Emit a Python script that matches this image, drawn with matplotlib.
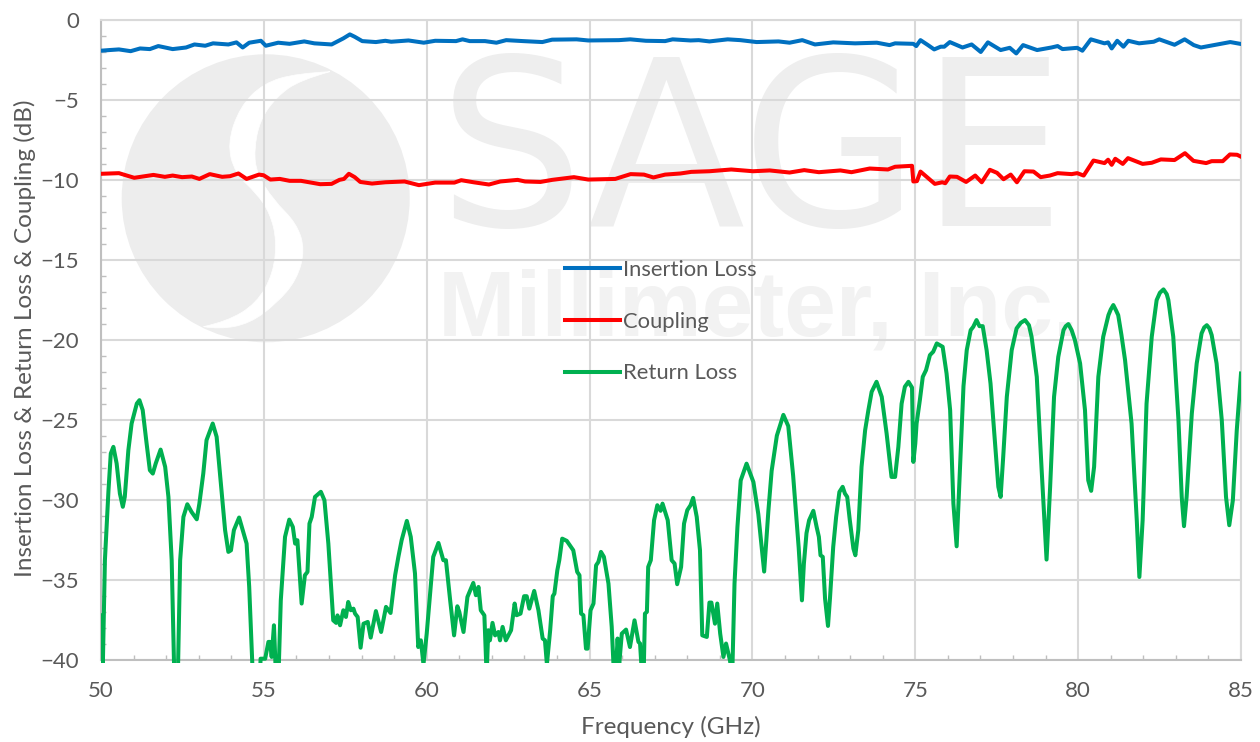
import matplotlib
matplotlib.use("Agg")
import matplotlib.pyplot as plt
from matplotlib.patches import Circle, PathPatch
from matplotlib.path import Path
from matplotlib.transforms import Bbox, TransformedBbox, IdentityTransform
from matplotlib.ticker import MultipleLocator

plt.rcParams['font.family'] = ['Lato', 'DejaVu Sans']

freq_il = [50.00,50.26,50.55,50.91,51.2,51.5,51.76,52.2,52.61,52.87,53.2,53.44,53.91,54.16,54.35,54.55,54.91,55.06,55.44,55.79,56.24,56.55,57.08,57.44,57.64,57.79,58.02,58.44,58.73,58.91,59.44,59.91,60.26,60.9,61.1,61.32,61.79,62.14,62.44,62.96,63.55,63.85,64.6,64.96,65.9,66.25,66.73,67.32,67.55,68.1,68.35,68.68,69.24,69.63,70.13,70.8,71.14,71.53,71.92,72.48,73.15,73.82,74.21,74.38,74.94,75.03,75.16,75.39,75.58,75.78,75.89,76.06,76.45,76.73,77.01,77.23,77.62,77.9,78.1,78.31,78.74,79.18,79.37,79.52,79.97,80.13,80.39,80.81,80.92,81.03,81.2,81.39,81.54,81.87,82.32,82.49,82.96,83.27,83.55,83.77,84.22,84.67,85.0]
insertion_loss = [-1.92,-1.88,-1.84,-1.95,-1.78,-1.82,-1.63,-1.82,-1.72,-1.53,-1.61,-1.46,-1.53,-1.40,-1.72,-1.42,-1.30,-1.61,-1.42,-1.49,-1.34,-1.46,-1.53,-1.15,-0.90,-1.05,-1.32,-1.38,-1.30,-1.36,-1.28,-1.42,-1.30,-1.32,-1.21,-1.32,-1.32,-1.42,-1.26,-1.32,-1.38,-1.23,-1.21,-1.28,-1.26,-1.21,-1.30,-1.32,-1.21,-1.28,-1.26,-1.34,-1.21,-1.26,-1.38,-1.34,-1.42,-1.26,-1.53,-1.40,-1.46,-1.42,-1.57,-1.46,-1.49,-1.63,-1.26,-1.57,-1.84,-1.67,-1.67,-1.38,-1.72,-1.53,-2.0,-1.40,-1.88,-1.74,-2.09,-1.57,-1.88,-1.72,-1.63,-1.82,-1.74,-1.92,-1.21,-1.46,-1.40,-1.78,-1.30,-1.67,-1.30,-1.46,-1.36,-1.21,-1.55,-1.21,-1.57,-1.72,-1.55,-1.38,-1.5]

freq_cp = [50.0,50.55,51.02,51.61,51.96,52.2,52.49,52.79,53.02,53.34,53.72,53.96,54.22,54.47,54.85,54.99,55.2,55.49,55.79,56.14,56.73,57.08,57.32,57.46,57.61,57.79,57.96,58.32,58.73,59.32,59.76,60.26,60.85,61.06,61.44,61.91,62.26,62.79,63.02,63.49,63.85,64.52,64.96,65.79,66.26,66.67,66.96,67.32,67.79,68.12,68.68,69.35,70.02,70.53,71.14,71.59,72.04,72.7,73.04,73.6,74.16,74.38,74.9,74.94,75.05,75.16,75.6,75.83,75.92,76.06,76.28,76.56,76.84,77.04,77.29,77.51,77.71,77.93,78.12,78.35,78.63,78.85,79.13,79.37,79.8,79.97,80.17,80.47,80.81,80.92,81.03,81.14,81.37,81.53,81.98,82.26,82.54,82.96,83.28,83.54,83.93,84.1,84.44,84.66,84.88,85.0]
coupling = [-9.62,-9.58,-9.87,-9.69,-9.81,-9.73,-9.83,-9.79,-9.94,-9.64,-9.81,-9.77,-9.60,-9.94,-9.67,-9.71,-9.98,-9.94,-10.06,-10.06,-10.27,-10.25,-10.0,-9.94,-9.62,-9.83,-10.13,-10.23,-10.15,-10.10,-10.33,-10.17,-10.17,-10.02,-10.15,-10.29,-10.10,-10.0,-10.10,-10.13,-10.0,-9.83,-9.98,-9.94,-9.64,-9.67,-9.85,-9.67,-9.6,-9.50,-9.46,-9.35,-9.46,-9.41,-9.54,-9.39,-9.52,-9.41,-9.52,-9.29,-9.35,-9.18,-9.12,-10.10,-10.08,-9.48,-10.25,-10.15,-10.21,-9.79,-9.81,-10.13,-9.73,-10.15,-9.37,-9.56,-9.96,-9.67,-10.15,-9.46,-9.48,-9.83,-9.73,-9.58,-9.64,-9.58,-9.73,-8.79,-8.95,-8.74,-9.06,-8.68,-9.0,-8.64,-9.0,-8.93,-8.72,-8.76,-8.33,-8.81,-8.95,-8.83,-8.83,-8.41,-8.43,-8.55]

freq_rl = [50.00,50.05,50.12,50.23,50.30,50.38,50.48,50.58,50.67,50.73,50.84,50.94,51.10,51.18,51.28,51.40,51.50,51.59,51.68,51.83,51.97,52.07,52.17,52.25,52.36,52.43,52.53,52.65,52.78,52.94,53.02,53.14,53.24,53.43,53.55,53.67,53.81,53.91,53.99,54.08,54.24,54.47,54.55,54.66,54.88,54.90,55.04,55.14,55.19,55.24,55.31,55.37,55.45,55.52,55.65,55.78,55.89,55.96,56.03,56.16,56.26,56.34,56.40,56.47,56.57,56.75,56.86,56.98,57.13,57.22,57.26,57.34,57.44,57.52,57.59,57.67,57.75,57.80,57.88,57.97,58.06,58.19,58.28,58.44,58.60,58.75,58.89,59.03,59.13,59.23,59.39,59.51,59.64,59.74,59.82,59.90,60.00,60.20,60.36,60.51,60.59,60.72,60.84,60.94,61.00,61.13,61.25,61.43,61.51,61.59,61.66,61.77,61.84,61.89,61.94,62.02,62.10,62.20,62.25,62.33,62.43,62.59,62.70,62.76,62.88,62.99,63.07,63.15,63.30,63.43,63.56,63.63,63.69,63.79,63.87,63.92,64.01,64.07,64.16,64.30,64.50,64.62,64.69,64.74,64.81,64.89,64.94,65.03,65.12,65.20,65.27,65.35,65.44,65.58,65.68,65.75,65.80,65.86,65.91,65.99,66.12,66.24,66.38,66.50,66.55,66.61,66.66,66.70,66.76,66.80,66.88,66.98,67.08,67.18,67.24,67.40,67.52,67.61,67.69,67.81,67.90,68.00,68.10,68.18,68.29,68.39,68.46,68.60,68.68,68.74,68.85,68.92,69.01,69.11,69.19,69.31,69.38,69.45,69.54,69.64,69.82,70.03,70.18,70.36,70.49,70.59,70.75,70.95,71.10,71.25,71.42,71.52,71.58,71.66,71.74,71.87,71.97,72.04,72.09,72.16,72.23,72.32,72.38,72.48,72.57,72.67,72.77,72.84,72.91,72.99,73.10,73.16,73.25,73.35,73.46,73.56,73.66,73.81,73.97,74.12,74.27,74.38,74.48,74.58,74.68,74.79,74.90,74.94,75.00,75.04,75.14,75.23,75.33,75.45,75.55,75.66,75.84,75.96,76.07,76.17,76.27,76.37,76.48,76.58,76.70,76.78,76.88,76.97,77.07,77.19,77.31,77.45,77.55,77.62,77.70,77.81,77.96,78.11,78.24,78.37,78.49,78.57,78.73,78.88,79.03,79.14,79.26,79.39,79.55,79.62,79.70,79.80,79.90,80.06,80.21,80.31,80.40,80.49,80.62,80.77,80.93,81.00,81.08,81.16,81.23,81.33,81.44,81.64,81.80,81.88,81.98,82.10,82.26,82.41,82.51,82.62,82.72,82.77,82.92,83.08,83.18,83.25,83.33,83.49,83.64,83.79,83.87,83.95,84.03,84.10,84.25,84.41,84.54,84.64,84.75,84.87,85.00]
return_loss = [-37.24,-41,-33.79,-29.41,-27.12,-26.70,-27.74,-29.62,-30.45,-29.83,-26.91,-25.24,-23.99,-23.78,-24.40,-26.49,-28.16,-28.37,-27.74,-26.87,-27.95,-29.83,-33.79,-41,-41,-33.79,-31.08,-30.29,-30.77,-31.23,-30.25,-28.37,-26.28,-25.24,-26.07,-28.79,-31.91,-33.27,-33.17,-31.91,-31.12,-32.75,-35.46,-41,-41,-39.95,-39.95,-38.9,-38.9,-39.84,-37.86,-41,-41,-36.3,-32.33,-31.25,-31.71,-32.75,-32.54,-36.50,-34.73,-34.52,-31.50,-31.08,-29.83,-29.51,-30.04,-32.75,-37.55,-37.71,-37.24,-37.86,-36.92,-37.34,-36.40,-36.92,-36.82,-37.13,-37.34,-39.26,-37.76,-37.65,-38.63,-36.97,-38.28,-36.71,-37.09,-34.73,-33.58,-32.54,-31.33,-32.33,-34.62,-39.22,-38.80,-40.3,-38.38,-33.58,-32.71,-33.79,-33.79,-36.30,-38.49,-36.67,-37.02,-38.28,-36.09,-35.21,-35.98,-35.46,-36.92,-37.24,-41,-38.17,-38.80,-37.71,-38.49,-38.28,-38.80,-37.96,-38.80,-38.17,-36.50,-37.23,-37.13,-36.04,-36.04,-36.82,-35.71,-36.92,-38.69,-38.80,-40.3,-38.17,-36.04,-35.88,-34.42,-33.79,-32.44,-32.58,-33.17,-34.52,-34.73,-37.13,-37.23,-39.32,-39.32,-36.92,-36.50,-34.11,-33.90,-33.27,-33.58,-35.25,-37.96,-41,-41,-38.69,-40.3,-38.38,-38.13,-39.22,-37.55,-38.90,-39.0,-41,-41,-37.13,-37.02,-34.21,-33.79,-31.29,-30.35,-30.70,-30.25,-31.29,-33.79,-34.0,-35.29,-34.21,-31.50,-30.66,-30.35,-29.89,-31.08,-33.17,-38.49,-38.59,-36.44,-36.44,-37.76,-36.50,-38.38,-39.84,-39.0,-40.05,-41,-35.25,-31.7,-28.8,-27.75,-28.9,-30.9,-34.5,-30.7,-28.2,-26.0,-24.7,-25.4,-28.5,-33.0,-36.3,-34.0,-32.1,-31.29,-30.7,-31.7,-32.33,-33.48,-33.58,-36.2,-37.9,-36.2,-32.96,-31.08,-29.52,-29.2,-29.62,-29.83,-31.29,-33.06,-33.48,-31.91,-27.95,-25.66,-24.4,-23.26,-22.63,-23.57,-25.87,-28.58,-28.58,-26.7,-24.0,-22.94,-22.63,-22.99,-27.64,-26.5,-25.24,-23.78,-22.32,-21.9,-20.96,-20.75,-20.23,-20.44,-22.11,-24.4,-30.25,-32.92,-28.16,-22.9,-20.65,-19.40,-19.19,-18.77,-19.15,-19.15,-20.65,-22.74,-26.5,-29.2,-29.83,-27.3,-23.57,-20.65,-19.29,-18.94,-18.77,-19.09,-19.81,-22.32,-28.16,-33.75,-29.2,-23.57,-21.07,-19.40,-19.15,-19.02,-19.40,-20.02,-21.48,-24.4,-28.79,-29.45,-27.95,-22.32,-19.81,-18.46,-18.11,-17.83,-18.15,-18.46,-19.71,-21.27,-25.24,-31.29,-34.84,-31.29,-24.0,-19.81,-17.52,-17.06,-16.85,-17.15,-17.52,-19.81,-25.03,-29.83,-31.66,-29.83,-24.61,-21.48,-19.6,-19.23,-19.09,-19.29,-19.71,-21.48,-25.03,-29.83,-31.6,-30.04,-25.66,-22.11]

x_ticks = [50, 55, 60, 65, 70, 75, 80, 85]
y_ticks = [0, -5, -10, -15, -20, -25, -30, -35, -40]
series_names = ['Insertion Loss', 'Coupling', 'Return Loss']

W, H = 1260, 742
TEXT = '#595959'
GRID = '#D9D9D9'
MARK = '#EDEDED'

fig = plt.figure(figsize=(W/100, H/100), dpi=100)
ax = fig.add_axes([101/W, 1-659.5/H, (1241-101)/W, (659.5-20)/H])
ax.set_xlim(50, 85)
ax.set_ylim(-40, 0)
ax.set_axisbelow(True)

# watermark (pixel coordinates)
disp = IdentityTransform()
ax.add_patch(Circle((265.7, H-198.3), 144, facecolor=MARK, edgecolor='none', transform=disp, zorder=0.2, clip_on=False))
upper = [(660,95),(560,100),(460,130),(390,200),(352,310),(375,400),(440,460),(480,520),(500,600),(490,700),(440,790),(350,845),(280,860)]
lower = [(330,868),(420,850),(500,790),(560,720),(585,630),(560,550),(490,480),(440,400),(432,330),(450,240),(500,170),(570,120),(660,95)]
def to_px(p):
    return (110+p[0]/3, H-(40+p[1]/3))
def smooth(points):
    # quadratic segments through the midpoints, ends kept sharp
    v = [to_px(points[0])]
    c = []
    for i in range(1, len(points)-1):
        a = to_px(points[i]); b = to_px(points[i+1])
        end = b if i == len(points)-2 else ((a[0]+b[0])/2, (a[1]+b[1])/2)
        v += [a, end]
        c += [Path.CURVE3, Path.CURVE3]
    return v, c
v1, c1 = smooth(upper)
v2, c2 = smooth([upper[-1]] + lower)
verts = v1 + v2[1:]
codes = [Path.MOVETO] + c1 + c2
ax.add_patch(PathPatch(Path(verts, codes), facecolor='white', edgecolor='white', lw=0.5, transform=disp, zorder=0.3, clip_on=False))
fig_t = fig.transFigure
ax.text(438/W, 1-226/H, 'SAGE', transform=fig_t, fontsize=166, color='#EEEEEE', ha='left', va='baseline', zorder=0.2, family='DejaVu Sans')
ax.text(438/W, 1-336/H, 'Millimeter, Inc.', transform=fig_t, fontsize=67, color='#F2F2F2', ha='left', va='baseline', zorder=0.2, fontweight='bold', family='Liberation Sans')

ax.grid(True, which='major', color=GRID, lw=1.5)
for s in ['top', 'right']:
    ax.spines[s].set_color(GRID); ax.spines[s].set_linewidth(1.5)
for s in ['left', 'bottom']:
    ax.spines[s].set_color('#BFBFBF'); ax.spines[s].set_linewidth(1.5)

ax.set_xticks(x_ticks)
ax.set_yticks(y_ticks)
ax.xaxis.set_minor_locator(MultipleLocator(1))
ax.yaxis.set_minor_locator(MultipleLocator(1))
ax.tick_params(which='major', length=0, labelsize=16, colors=TEXT)
ax.tick_params(axis='x', which='major', pad=15.5)
ax.tick_params(axis='y', which='major', pad=16)
ax.tick_params(which='minor', direction='in', length=3.5, width=1, color='#BFBFBF')

clip = TransformedBbox(Bbox([[0, -0.006], [1, 1.006]]), ax.transAxes)
l1, = ax.plot(freq_il, insertion_loss, color='#0070C0', lw=2.9, label=series_names[0], solid_joinstyle='round', zorder=3)
l2, = ax.plot(freq_cp, coupling, color='#FF0000', lw=2.9, label=series_names[1], solid_joinstyle='round', zorder=3)
l3, = ax.plot(freq_rl, return_loss, color='#00B050', lw=2.9, label=series_names[2], solid_joinstyle='round', zorder=3)
for l in (l1, l2, l3):
    l.set_clip_box(clip)

leg = ax.legend(loc='upper left', bbox_to_anchor=(565/W, 1-260/H), bbox_transform=fig.transFigure,
                frameon=False, fontsize=15.8, labelcolor=TEXT, handlelength=2.5, handletextpad=0.14,
                labelspacing=1.44, borderpad=0, borderaxespad=0)

fig.text(671/W, 1-727/H, 'Frequency (GHz)', fontsize=17.5, color=TEXT, ha='center', va='center')
fig.text(25/W, 1-338/H, 'Insertion Loss & Return Loss & Coupling (dB)', fontsize=17.5, color=TEXT, rotation=90, ha='center', va='center')

fig.savefig('out.png', dpi=100)
